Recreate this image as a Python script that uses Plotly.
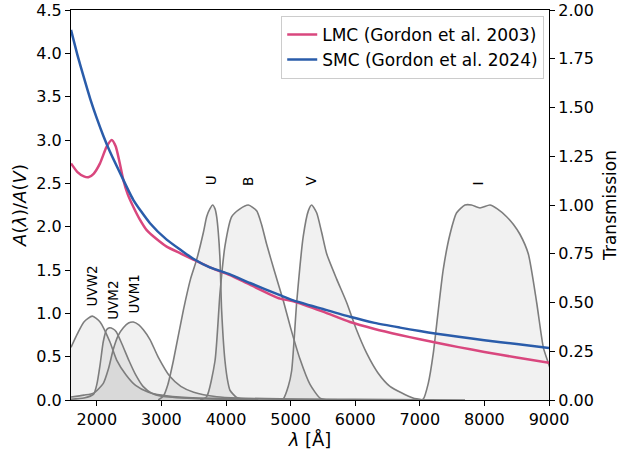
import plotly.graph_objects as go

# ---------------- data ----------------
lmc_wave = [1600, 1700, 1800, 1868, 1950, 2049, 2150, 2230, 2290, 2350, 2410, 2480, 2564, 2660,
            2772, 2920, 3081, 3300, 3493, 3750, 4061, 4371, 4835, 5042, 5500, 5919, 6300, 6693,
            7000, 7261, 7600, 8000, 8500, 9000]
lmc_ext = [2.73, 2.63, 2.58, 2.57, 2.61, 2.73, 2.92, 3.00, 2.93, 2.75, 2.54, 2.37, 2.23, 2.09,
           1.96, 1.86, 1.77, 1.69, 1.62, 1.53, 1.44, 1.33, 1.17, 1.14, 1.02, 0.90, 0.82, 0.75,
           0.70, 0.66, 0.61, 0.555, 0.49, 0.43]

smc_wave = [1600, 1700, 1800, 1900, 2000, 2100, 2200, 2359, 2564, 2823, 3081, 3300, 3493, 3750,
            4061, 4371, 4835, 5042, 5500, 5919, 6300, 6693, 7000, 7261, 7600, 8000, 8500, 9000]
smc_ext = [4.27, 3.98, 3.72, 3.47, 3.25, 3.05, 2.87, 2.62, 2.31, 2.04, 1.85, 1.73, 1.63, 1.53,
           1.45, 1.35, 1.21, 1.15, 1.05, 0.96, 0.89, 0.835, 0.795, 0.765, 0.73, 0.69, 0.645, 0.60]

filter_names = ["UVW2", "UVM2", "UVM1", "U", "B", "V", "I"]
filter_label_wave = [1930, 2250, 2590, 3780, 4340, 5330, 7900]

uvw2_wave = [1600, 1700, 1800, 1930, 2050, 2200, 2307, 2450, 2600, 2800, 3000, 3400, 4000, 5000, 6000, 7700]
uvw2_trans = [0.27, 0.34, 0.40, 0.43, 0.40, 0.30, 0.205, 0.13, 0.075, 0.04, 0.025, 0.012, 0.007, 0.004, 0.003, 0.0]

uvm2_wave = [1600, 1800, 1950, 2000, 2050, 2100, 2150, 2193, 2250, 2300, 2385, 2500, 2600, 2715, 2850, 3000, 3500, 4500]
uvm2_trans = [0.004, 0.01, 0.03, 0.08, 0.18, 0.30, 0.36, 0.37, 0.365, 0.35, 0.29, 0.20, 0.13, 0.07, 0.035, 0.02, 0.008, 0.0]

uvw1_wave = [1600, 1800, 1950, 2100, 2180, 2255, 2330, 2410, 2490, 2565, 2650, 2720, 2823, 2950, 3133,
             3300, 3500, 3855, 4200, 5000, 6000]
uvw1_trans = [0.015, 0.025, 0.035, 0.085, 0.16, 0.26, 0.33, 0.37, 0.395, 0.40, 0.385, 0.36, 0.31, 0.22, 0.12,
              0.07, 0.04, 0.017, 0.01, 0.005, 0.0]

u_wave = [2950, 3029, 3100, 3184, 3339, 3450, 3545, 3650, 3700, 3750, 3793, 3830, 3855, 3880, 3907, 3932,
          3984, 4030, 4061, 4165, 4300]
u_trans = [0.0, 0.02, 0.08, 0.20, 0.46, 0.62, 0.72, 0.86, 0.94, 0.98, 1.0, 0.98, 0.94, 0.86, 0.72, 0.46,
           0.20, 0.09, 0.05, 0.013, 0.0]

b_wave = [3600, 3700, 3829, 3907, 3984, 4088, 4216, 4345, 4474, 4550, 4628, 4750, 4886, 5000, 5145, 5300, 5455, 5600]
b_trans = [0.0, 0.017, 0.20, 0.55, 0.79, 0.94, 0.98, 1.0, 0.97, 0.90, 0.80, 0.66, 0.51, 0.37, 0.21, 0.08, 0.01, 0.0]

v_wave = [4850, 4886, 4964, 5016, 5094, 5196, 5274, 5326, 5403, 5480, 5558, 5713, 5867, 6020, 6177,
          6350, 6538, 6894, 7050]
v_trans = [0.0, 0.005, 0.07, 0.15, 0.50, 0.84, 0.97, 1.0, 0.96, 0.86, 0.75, 0.62, 0.50, 0.36, 0.24,
           0.14, 0.07, 0.01, 0.0]

i_wave = [7000, 7054, 7131, 7209, 7286, 7363, 7467, 7570, 7699, 7800, 7931, 8086, 8200, 8344, 8450,
          8550, 8679, 8809, 8912, 8989, 9100]
i_trans = [0.0, 0.005, 0.085, 0.24, 0.46, 0.67, 0.85, 0.96, 1.0, 1.0, 0.985, 1.0, 0.98, 0.94, 0.90,
           0.85, 0.75, 0.50, 0.27, 0.19, 0.08]

filters = [(uvw2_wave, uvw2_trans), (uvm2_wave, uvm2_trans), (uvw1_wave, uvw1_trans),
           (u_wave, u_trans), (b_wave, b_trans), (v_wave, v_trans), (i_wave, i_trans)]

FONT = "DejaVu Sans"
fig = go.Figure()

# filter curves (primary y axis: transmission, drawn on the right)
for (w, t) in filters:
    fig.add_trace(go.Scatter(
        x=w, y=t, mode="lines", yaxis="y",
        line=dict(color="rgb(125,125,125)", width=1.6, shape="spline", smoothing=0.6),
        fill="tozeroy", fillcolor="rgba(128,128,128,0.11)",
        showlegend=False, hoverinfo="skip"))

# extinction curves (y2: left axis)
fig.add_trace(go.Scatter(x=lmc_wave, y=lmc_ext, mode="lines", yaxis="y2",
                         name="LMC (Gordon et al. 2003)",
                         line=dict(color="#d9477e", width=2.5, shape="spline", smoothing=0.6)))
fig.add_trace(go.Scatter(x=smc_wave, y=smc_ext, mode="lines", yaxis="y2",
                         name="SMC (Gordon et al. 2024)",
                         line=dict(color="#2a5caa", width=2.5, shape="spline", smoothing=0.6)))

# filter labels
for name, lw, (w, t) in zip(filter_names, filter_label_wave, filters):
    fig.add_annotation(x=lw, y=max(t) * 1.09, xref="x", yref="y", text=name,
                       textangle=-90, showarrow=False, xanchor="center", yanchor="bottom",
                       font=dict(family=FONT, size=13.5, color="black"))

axis_common = dict(showline=True, linecolor="black", linewidth=1.2, ticks="outside",
                   ticklen=5, tickwidth=1.2, tickcolor="black", showgrid=False, zeroline=False,
                   automargin=False,
                   tickfont=dict(family=FONT, size=16, color="black"))

fig.update_layout(
    width=620, height=457,
    margin=dict(l=71, r=71, t=10, b=57),
    paper_bgcolor="white", plot_bgcolor="white",
    font=dict(family=FONT, color="black"),
    xaxis=dict(range=[1600, 9000], tick0=0, dtick=1000, mirror=True,
               title=dict(text="<i>λ</i> [Å]", font=dict(family=FONT, size=18), standoff=4),
               **axis_common),
    yaxis=dict(range=[0, 2.0], dtick=0.25, tickformat=".2f", side="right",
               title=dict(text="Transmission", font=dict(family=FONT, size=17), standoff=12),
               **axis_common),
    yaxis2=dict(range=[0, 4.5], dtick=0.5, tickformat=".1f", side="left", overlaying="y",
                title=dict(text="<i>A</i>(<i>λ</i>)/<i>A</i>(<i>V</i>)", font=dict(family=FONT, size=18), standoff=4),
                **axis_common),
    legend=dict(x=0.99, y=0.985, xanchor="right", yanchor="top",
                bgcolor="rgba(255,255,255,0.8)", bordercolor="#cccccc", borderwidth=1,
                font=dict(family=FONT, size=17, color="black"), tracegroupgap=0),
)

fig.write_html("out.html")
